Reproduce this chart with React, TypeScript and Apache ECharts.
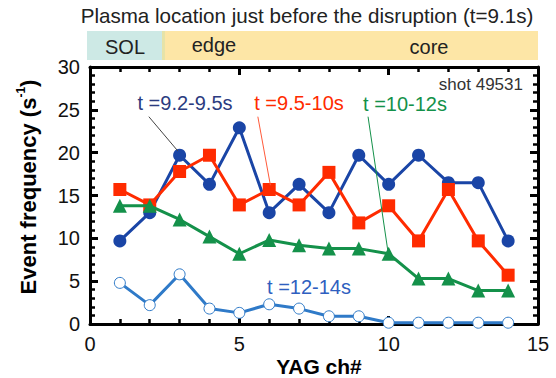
import React, { useEffect, useRef } from "react";
import * as echarts from "echarts";

const channels = [1, 2, 3, 4, 5, 6, 7, 8, 9, 10, 11, 12, 13, 14];
const s92_95 = [9.7, 13.0, 19.7, 16.3, 22.9, 13.0, 16.3, 13.0, 19.7, 16.3, 19.7, 16.5, 16.5, 9.7];
const s95_10 = [15.7, 13.9, 17.8, 19.7, 13.9, 15.7, 13.9, 17.7, 11.8, 13.8, 9.7, 15.7, 9.7, 5.7];
const s10_12 = [13.8, 13.8, 12.2, 10.2, 8.2, 9.8, 9.2, 8.8, 8.8, 8.2, 5.3, 5.3, 3.9, 3.9];
const s12_14 = [4.8, 2.2, 5.8, 1.8, 1.3, 2.3, 1.8, 0.9, 0.9, 0.15, 0.15, 0.15, 0.15, 0.15];

const xTicks = { min: 0, max: 15, interval: 5 };
const yTicks = { min: 0, max: 30, interval: 5 };

// leader lines (data coordinates)
const leader92 = [[1.97, 24.2], [2.94, 20.2]];
const leader95 = [[5.62, 24.2], [6.04, 16.2]];
const leader10 = [[9.31, 24.2], [9.97, 8.6]];

const FONT = "Liberation Sans, Arial, Helvetica, sans-serif";

function pairs(xs: number[], ys: number[]) {
  return xs.map((x, i) => [x, ys[i]]);
}

function leader(pts: number[][], color: string) {
  return {
    silent: true,
    symbol: ["none", "none"],
    label: { show: false },
    lineStyle: { color, width: 1, type: "solid" },
    data: [[{ coord: pts[0] }, { coord: pts[1] }]],
  };
}

function axisCommon(showLabel: boolean) {
  return {
    type: "value",
    axisLine: { show: true, onZero: false, lineStyle: { color: "#000", width: 3 } },
    axisTick: { show: true, inside: true, length: 8, lineStyle: { color: "#000", width: 3 } },
    minorTick: { show: true, splitNumber: 5, length: 5, lineStyle: { color: "#000", width: 2.5 } },
    splitLine: { show: false },
    minorSplitLine: { show: false },
    axisLabel: { show: showLabel, fontSize: 20, color: "#111", margin: 10, fontFamily: FONT },
  };
}

export default function App() {
  const ref = useRef<HTMLDivElement>(null);
  useEffect(() => {
    if (!ref.current) return;
    const chart = echarts.init(ref.current, null, { renderer: "svg" });
    const blue = "#1a45a6";
    const red = "#ff2b00";
    const green = "#14914a";
    const lblue = "#2f7ac8";
    chart.setOption({
      animation: false,
      backgroundColor: "#fff",
      grid: { left: 90, right: 18, top: 67, bottom: 54 },
      xAxis: [
        { ...axisCommon(true), position: "bottom", ...xTicks },
        { ...axisCommon(false), position: "top", ...xTicks },
      ],
      yAxis: [
        { ...axisCommon(true), position: "left", ...yTicks },
        { ...axisCommon(false), position: "right", ...yTicks },
      ],
      series: [
        {
          type: "line",
          data: pairs(channels, s92_95),
          symbol: "circle",
          symbolSize: 13,
          lineStyle: { color: blue, width: 3 },
          itemStyle: { color: blue },
          markLine: leader(leader92, "#444"),
          z: 2,
        },
        {
          type: "line",
          data: pairs(channels, s95_10),
          symbol: "rect",
          symbolSize: 13,
          lineStyle: { color: red, width: 3 },
          itemStyle: { color: red },
          markLine: leader(leader95, "#ff5a3a"),
          z: 3,
        },
        {
          type: "line",
          data: pairs(channels, s10_12),
          symbol: "triangle",
          symbolSize: 14,
          lineStyle: { color: green, width: 3 },
          itemStyle: { color: green },
          markLine: leader(leader10, green),
          z: 4,
        },
        {
          type: "line",
          data: pairs(channels, s12_14),
          symbol: "circle",
          symbolSize: 11,
          showAllSymbol: true,
          lineStyle: { color: lblue, width: 3 },
          itemStyle: { color: "#fff", borderColor: lblue, borderWidth: 1 },
          z: 5,
        },
      ],
      graphic: [
        {
          type: "text",
          x: 307,
          y: 15,
          style: {
            text: "Plasma location just before the disruption (t=9.1s)",
            fontSize: 20.6,
            fontFamily: FONT,
            fill: "#222",
            align: "center",
            verticalAlign: "middle",
          },
        },
        { type: "rect", shape: { x: 87, y: 31, width: 76, height: 29 }, style: { fill: "#cde9e5" } },
        { type: "rect", shape: { x: 163, y: 31, width: 375, height: 29 }, style: { fill: "#fde6a6" } },
        { type: "rect", shape: { x: 162, y: 31, width: 3, height: 29 }, style: { fill: "#e6e3a8" } },
        {
          type: "text",
          x: 125,
          y: 47,
          style: { text: "SOL", fontSize: 20, fontFamily: FONT, fill: "#222", align: "center", verticalAlign: "middle" },
        },
        {
          type: "text",
          x: 214,
          y: 45,
          style: { text: "edge", fontSize: 20, fontFamily: FONT, fill: "#222", align: "center", verticalAlign: "middle" },
        },
        {
          type: "text",
          x: 429,
          y: 47,
          style: { text: "core", fontSize: 20, fontFamily: FONT, fill: "#222", align: "center", verticalAlign: "middle" },
        },
        {
          type: "text",
          x: 523,
          y: 84,
          z: 10,
          style: { text: "shot 49531", fontSize: 17, fontFamily: FONT, fill: "#333", align: "right", verticalAlign: "middle" },
        },
        {
          type: "text",
          x: 185,
          y: 103,
          z: 10,
          style: { text: "t =9.2-9.5s", fontSize: 20, fontFamily: FONT, fill: "#2b3b80", align: "center", verticalAlign: "middle" },
        },
        {
          type: "text",
          x: 299,
          y: 103,
          z: 10,
          style: { text: "t =9.5-10s", fontSize: 20, fontFamily: FONT, fill: red, align: "center", verticalAlign: "middle" },
        },
        {
          type: "text",
          x: 405,
          y: 104,
          z: 10,
          style: { text: "t =10-12s", fontSize: 20, fontFamily: FONT, fill: green, align: "center", verticalAlign: "middle" },
        },
        {
          type: "text",
          x: 309,
          y: 287,
          z: 10,
          style: { text: "t =12-14s", fontSize: 20, fontFamily: FONT, fill: "#2f5fc0", align: "center", verticalAlign: "middle" },
        },
        {
          type: "text",
          x: 319,
          y: 366,
          style: {
            text: "YAG ch#",
            fontSize: 21,
            fontWeight: "bold",
            fontFamily: FONT,
            fill: "#000",
            align: "center",
            verticalAlign: "middle",
          },
        },
        {
          type: "text",
          x: 28,
          y: 187,
          rotation: Math.PI / 2,
          style: {
            text: "{a|Event frequency (s}{b|-1}{a|)}",
            align: "center",
            verticalAlign: "middle",
            rich: {
              a: { fontSize: 22, fontWeight: "bold", fontFamily: FONT, fill: "#000", color: "#000", lineHeight: 26 },
              b: {
                fontSize: 12,
                fontWeight: "bold",
                fontFamily: FONT,
                fill: "#000",
                color: "#000",
                verticalAlign: "top",
                lineHeight: 26,
                padding: [0, 0, 10, 0],
              },
            },
          },
        },
      ],
    });
    return () => chart.dispose();
  }, []);
  return (
    <div
      ref={ref}
      style={{ position: "fixed", left: 0, top: 0, width: 556, height: 378 }}
    />
  );
}
